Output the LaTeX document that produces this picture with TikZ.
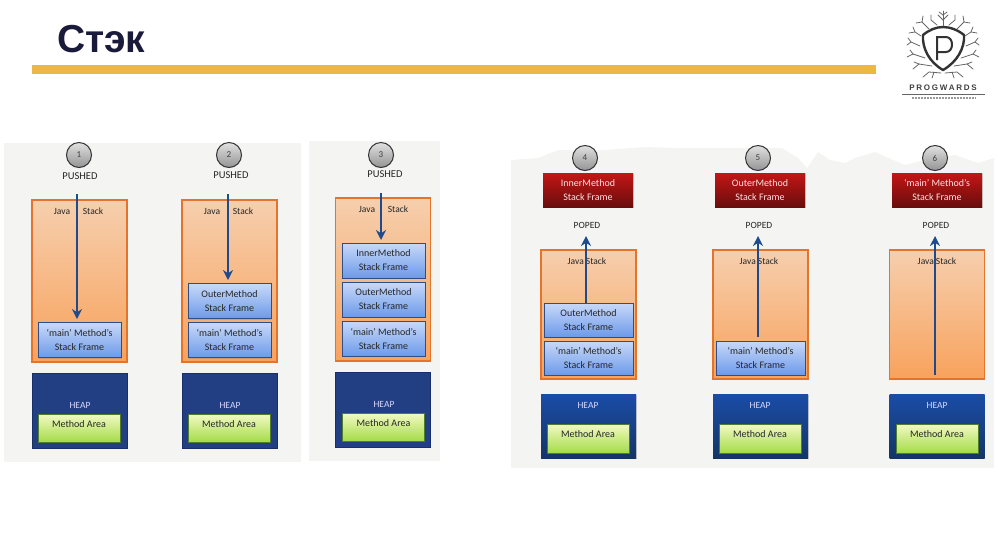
\documentclass[tikz,border=0pt]{standalone}
\usepackage{fontspec}
\setmainfont{Carlito}
\newfontfamily\titlefont{Liberation Sans}
\newfontfamily\logofont[LetterSpace=22]{Liberation Sans}
\usetikzlibrary{arrows.meta,shadows}
\definecolor{panelgray}{HTML}{F4F4F2}
\definecolor{arrowblue}{HTML}{1F4A8C}
\definecolor{bargold}{HTML}{ECB844}
\definecolor{titleink}{HTML}{1A1A3A}
\definecolor{stacktop}{HTML}{F6CFAE}
\definecolor{stackbot}{HTML}{F8A25C}
\definecolor{stackrim}{HTML}{E4742C}
\definecolor{frametop}{HTML}{C8D9F8}
\definecolor{framebot}{HTML}{6C9AEA}
\definecolor{framerim}{HTML}{2F4E88}
\definecolor{heapa}{HTML}{223F84}
\definecolor{heaprim}{HTML}{17306A}
\definecolor{heaptop}{HTML}{1A4CA8}
\definecolor{heapbot}{HTML}{143666}
\definecolor{areatop}{HTML}{F2F9C4}
\definecolor{areabot}{HTML}{A4DC48}
\definecolor{arearim}{HTML}{4F7F2C}
\definecolor{poptop}{HTML}{C41616}
\definecolor{popbot}{HTML}{690D0D}
\tikzset{
  softshadow/.style={drop shadow={opacity=.3,shadow xshift=.8pt,shadow yshift=-1pt}},
  stackbox/.style={draw=stackrim,line width=1.1pt,top color=stacktop,bottom color=stackbot,inner sep=0pt,minimum width=95pt,softshadow},
  framebox/.style={draw=framerim,line width=1pt,top color=frametop,bottom color=framebot,inner sep=0pt,minimum width=83pt,minimum height=35pt,align=center,text=black!85,font=\fontsize{10}{14}\selectfont,softshadow},
  popbox/.style={top color=poptop,bottom color=popbot,text=white!88!red,inner sep=0pt,minimum width=90pt,minimum height=34pt,align=center,font=\fontsize{10}{14}\selectfont,softshadow},
  heapbox/.style={draw=heaprim,line width=1pt,fill=heapa,inner sep=0pt,minimum width=95pt,minimum height=75pt},
  heapboxb/.style={top color=heaptop,bottom color=heapbot,inner sep=0pt,minimum width=95pt,minimum height=64pt,softshadow},
  areabox/.style={draw=arearim,line width=.9pt,top color=areatop,bottom color=areabot,inner sep=0pt,minimum width=82pt,minimum height=28pt,text height=7pt,text depth=9pt,text=black!85,font=\fontsize{10}{12}\selectfont},
  numdot/.style={draw=black!80,line width=1pt,circle,top color=black!12,bottom color=black!42,inner sep=0pt,minimum size=25pt,text=black!75,font=\fontsize{9}{10}\selectfont},
  lbl/.style={inner sep=0pt,text=black!85,font=\fontsize{9.5}{12}\selectfont},
  pushlbl/.style={lbl,font=\fontsize{10.5}{12}\selectfont},
  heaplbl/.style={lbl,text=white!85!blue},
  flow/.style={-{Stealth[length=10pt,width=10pt]},draw=arrowblue,line width=2.2pt},
  twig/.style={draw=black!60,line width=.8pt,line cap=round}
}
\begin{document}
\begin{tikzpicture}[x=1pt,y=-1pt]
  \useasboundingbox (0,0) rectangle (1000,550);

  % header
  \node[anchor=west,inner sep=0pt,text=titleink,font=\titlefont\bfseries\fontsize{39}{40}\selectfont] at (57,39) (title) {Стэк};
  \fill[bargold] (32,65) rectangle (876,74);

  % backgrounds
  \fill[panelgray] (4,143) rectangle (301,462);
  \fill[panelgray] (309,141) rectangle (440,461);
  \fill[panelgray] (511,160) -- (538,158) -- (558,150) -- (605,150) -- (645,147) -- (678,148) -- (738,148) -- (782,148) -- (798,158) -- (807,168) -- (818,152) -- (830,160) -- (845,163) -- (855,158) -- (875,152) -- (905,165) -- (925,160) -- (955,155) -- (978,163) -- (994,158) -- (994,468) -- (511,468) -- cycle;

  % pushed 1
  \node[numdot] at (79,155) (n1) {1};
  \node[pushlbl] at (80,176) (p1) {PUSHED};
  \node[stackbox,minimum height=162pt] at (79.5,281) (s1) {};
  \node[lbl] at (62,211) (j1) {Java};
  \node[lbl] at (93,211) (t1) {Stack};
  \node[framebox] at (79.5,340) (m1) {‘main’ Method’s\\Stack Frame};
  \node[heapbox] at (79.5,410.5) (h1) {};
  \node[heaplbl] at (80,405) (hl1) {HEAP};
  \node[areabox] at (79,428) (a1) {Method Area};
  \coordinate (b1) at (77,194);
  \coordinate (e1) at (77,319);
  \draw[flow] (b1) -- (e1);

  % pushed 2
  \node[numdot] at (229,155) (n2) {2};
  \node[pushlbl] at (231,175) (p2) {PUSHED};
  \node[stackbox,minimum height=162pt] at (229.5,281) (s2) {};
  \node[lbl] at (212,211) (j2) {Java};
  \node[lbl] at (243,211) (t2) {Stack};
  \node[framebox] at (229.5,301) (o2) {OuterMethod\\Stack Frame};
  \node[framebox] at (229.5,340) (m2) {‘main’ Method’s\\Stack Frame};
  \node[heapbox] at (229.5,410.5) (h2) {};
  \node[heaplbl] at (230,405) (hl2) {HEAP};
  \node[areabox] at (229,428) (a2) {Method Area};
  \coordinate (b2) at (228,194);
  \coordinate (e2) at (228,280);
  \draw[flow] (b2) -- (e2);

  % pushed 3
  \node[numdot] at (381,155) (n3) {3};
  \node[pushlbl] at (385,174) (p3) {PUSHED};
  \node[stackbox,minimum height=163pt] at (383,279.5) (s3) {};
  \node[lbl] at (367,209) (j3) {Java};
  \node[lbl] at (398,209) (t3) {Stack};
  \node[framebox] at (383.5,260.5) (i3) {InnerMethod\\Stack Frame};
  \node[framebox] at (383.5,299.5) (o3) {OuterMethod\\Stack Frame};
  \node[framebox] at (383.5,338.5) (m3) {‘main’ Method’s\\Stack Frame};
  \node[heapbox] at (383,409.5) (h3) {};
  \node[heaplbl] at (384,404) (hl3) {HEAP};
  \node[areabox] at (383.5,427) (a3) {Method Area};
  \coordinate (b3) at (381,193);
  \coordinate (e3) at (381,240);
  \draw[flow] (b3) -- (e3);

  % poped 4
  \node[numdot] at (585,158) (n4) {4};
  \node[popbox] at (588,190) (r4) {InnerMethod\\Stack Frame};
  \node[lbl] at (587,225) (p4) {POPED};
  \node[stackbox,minimum height=129pt] at (588.5,314.5) (s4) {};
  \node[lbl] at (587,261) (j4) {Java Stack};
  \node[framebox,minimum width=89pt,minimum height=34pt] at (588.5,320) (o4) {OuterMethod\\Stack Frame};
  \node[framebox,minimum width=89pt,minimum height=34pt] at (588.5,358) (m4) {‘main’ Method’s\\Stack Frame};
  \node[heapboxb] at (588.5,426) (h4) {};
  \node[heaplbl] at (588,405) (hl4) {HEAP};
  \node[areabox,minimum height=29pt] at (588,438.5) (a4) {Method Area};
  \coordinate (e4) at (586,236);
  \draw[flow] (o4.north -| e4) -- (e4);

  % poped 5
  \node[numdot] at (758,158) (n5) {5};
  \node[popbox] at (760,190) (r5) {OuterMethod\\Stack Frame};
  \node[lbl] at (759,225) (p5) {POPED};
  \node[stackbox,minimum height=129pt] at (760.5,314.5) (s5) {};
  \node[lbl] at (759,261) (j5) {Java Stack};
  \node[framebox,minimum width=89pt,minimum height=34pt] at (760.5,358) (m5) {‘main’ Method’s\\Stack Frame};
  \node[heapboxb] at (760.5,426) (h5) {};
  \node[heaplbl] at (760,405) (hl5) {HEAP};
  \node[areabox,minimum height=29pt] at (760,438.5) (a5) {Method Area};
  \coordinate (b5) at (758,337);
  \coordinate (e5) at (758,236);
  \draw[flow] (b5) -- (e5);

  % poped 6
  \node[numdot] at (935,158) (n6) {6};
  \node[popbox] at (937,190) (r6) {‘main’ Method’s\\Stack Frame};
  \node[lbl] at (936,225) (p6) {POPED};
  \node[stackbox,minimum height=129pt] at (937,314.5) (s6) {};
  \node[lbl] at (937,261) (j6) {Java Stack};
  \node[heapboxb] at (937,426) (h6) {};
  \node[heaplbl] at (937,405) (hl6) {HEAP};
  \node[areabox,minimum height=29pt] at (937,438.5) (a6) {Method Area};
  \coordinate (b6) at (935,375);
  \coordinate (e6) at (935,236);
  \draw[flow] (b6) -- (e6);

  % logo
  \draw[black!80,line width=2.4pt,line join=round] (943,27) .. controls (950,27) and (958,30) .. (964,35) .. controls (965,48) and (957,62) .. (943,70) .. controls (929,62) and (922,48) .. (923,35) .. controls (929,30) and (936,27) .. (943,27) -- cycle;
  \draw[black!80,line width=2pt] (937,60) -- (937,37) -- (946,37) .. controls (954,37) and (954,52) .. (946,52) -- (937,52);
  \draw[twig] (943,26) -- (943,11);
  \foreach \sgn in {-1,1} {
    \draw[twig] (943,20) -- (943+\sgn*5,15);
    \draw[twig] (943,15) -- (943+\sgn*4,12);
    \draw[twig] (943+\sgn*6,25) -- (943+\sgn*12,20) -- (943+\sgn*12,15);
    \draw[twig] (943+\sgn*14,29) -- (943+\sgn*21,22) -- (943+\sgn*27,23);
    \draw[twig] (943+\sgn*21,22) -- (943+\sgn*20,16);
    \draw[twig] (943+\sgn*22,36) -- (943+\sgn*28,32) -- (943+\sgn*34,33);
    \draw[twig] (943+\sgn*28,32) -- (943+\sgn*30,27);
    \draw[twig] (943+\sgn*23,46) -- (943+\sgn*32,42) -- (943+\sgn*36,45);
    \draw[twig] (943+\sgn*32,42) -- (943+\sgn*35,38);
    \draw[twig] (943+\sgn*18,58) -- (943+\sgn*30,54) -- (943+\sgn*36,57);
    \draw[twig] (943+\sgn*30,54) -- (943+\sgn*33,50);
    \draw[twig] (943+\sgn*11,66) -- (943+\sgn*24,64) -- (943+\sgn*30,69);
    \draw[twig] (943+\sgn*24,64) -- (943+\sgn*29,62);
    \draw[twig] (943+\sgn*2,73) -- (943+\sgn*14,72) -- (943+\sgn*20,77);
    \draw[twig] (943+\sgn*9,72) -- (943+\sgn*11,78);
  }
  \node[inner sep=0pt,text=black!75,font=\logofont\bfseries\fontsize{8}{9}\selectfont] at (943,87.5) (brand) {PROGWARDS};
  \draw[black!60,line width=.8pt] (902,94) -- (985,94);
  \draw[black!40,line width=1.5pt,dash pattern=on 2pt off 1pt] (912,98) -- (976,98);
\end{tikzpicture}
\end{document}
